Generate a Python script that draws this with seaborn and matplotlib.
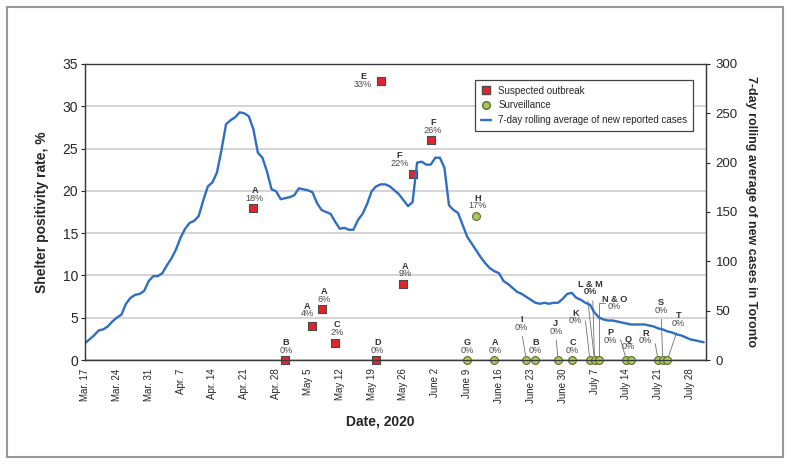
import seaborn as sns
import pandas as pd
import matplotlib.pyplot as plt
from matplotlib.lines import Line2D
from matplotlib.patches import Rectangle

# 7-day rolling average of new reported cases in Toronto, daily from Mar. 17
cases = [17, 21, 25, 30, 31, 34, 39, 43, 46, 57,
         63, 66, 67, 70, 80, 85, 85, 88, 96, 103,
         112, 124, 133, 139, 141, 146, 162, 176, 180, 190,
         213, 239, 243, 246, 251, 250, 247, 234, 210, 205,
         191, 173, 171, 163, 164, 165, 167, 174, 173, 172,
         170, 159, 152, 150, 148, 140, 133, 134, 132, 132,
         142, 148, 158, 171, 176, 178, 178, 176, 172, 168,
         162, 156, 160, 200, 201, 198, 198, 205, 205, 195,
         157, 152, 149, 137, 125, 118, 111, 104, 98, 93,
         90, 88, 80, 77, 73, 69, 67, 64, 61, 58,
         57, 58, 57, 58, 58, 62, 67, 68, 63, 61,
         58, 56, 48, 43, 41, 40, 40, 39, 38, 37,
         36, 36, 36, 36, 35, 34, 32, 31, 29, 28,
         26, 25, 23, 21, 20, 19, 18]
case_dates = pd.date_range("2020-03-17", periods=len(cases), freq="D")

# suspected outbreak tests
out_letters = ["A", "B", "A", "A", "C", "D", "E", "A", "F", "F"]
out_dates = ["2020-04-23", "2020-04-30", "2020-05-06", "2020-05-08", "2020-05-11",
             "2020-05-20", "2020-05-21", "2020-05-26", "2020-05-28", "2020-06-01"]
out_rates = [18, 0, 4, 6, 2, 0, 33, 9, 22, 26]

# surveillance tests
surv_letters = ["G", "H", "A", "I", "B", "J", "C", "K", "L & M", "N & O",
                "P", "Q", "R", "S", "T"]
surv_dates = ["2020-06-09", "2020-06-11", "2020-06-15", "2020-06-22", "2020-06-24",
              "2020-06-29", "2020-07-02", "2020-07-06", "2020-07-07", "2020-07-08",
              "2020-07-14", "2020-07-15", "2020-07-21", "2020-07-22", "2020-07-23"]
surv_rates = [0, 17, 0, 0, 0, 0, 0, 0, 0, 0, 0, 0, 0, 0, 0]

tick_dates = pd.date_range("2020-03-17", "2020-07-28", freq="7D")
tick_labels = ["Mar. 17", "Mar. 24", "Mar. 31", "Apr. 7", "Apr. 14", "Apr. 21",
               "Apr. 28", "May 5", "May 12", "May 19", "May 26", "June 2",
               "June 9", "June 16", "June 23", "June 30", "July 7", "July 14",
               "July 21", "July 28"]

# label offsets in pixels (dx, dy of the % text from the marker) + leader style
out_layout = [(1.5, 9.5, None), (0.7, 10, None), (-5.4, 12.4, None), (2.3, 10, None),
              (1.7, 10.7, None), (1.6, 10, None), (-17.6, -3.6, None), (2, 10, None),
              (-13, 10.6, None), (2.4, 10, None)]
surv_layout = [(0, 10, None), (1.6, 10.7, None), (0.7, 10, None),
               (-4.6, 32.7, "line"), (0.3, 10, None), (-2.3, 29, "line"),
               (1, 10, None), (-14.5, 39.3, ("elbow", (1, 0.5), 96.6)),
               (-4.5, 68.3, "double"), (15.5, 53.3, ("elbow", (0, 0.9), 90)),
               (-16, 20, ("elbow", (1, 0.5), 106)), (-2.7, 13.3, None),
               (-13, 19.3, ("elbow", (1, 0.5), 100.5)), (-1.6, 50, "line"),
               (11, 36.7, "line")]

RED = "#e3242b"
GREEN = "#a8c75e"
BLUE = "#2f6ec2"

sns.set_style("white")
plt.rcParams["font.family"] = ["Liberation Sans", "DejaVu Sans"]

fig = plt.figure(figsize=(7.91, 4.65), dpi=100)
ax = fig.add_axes([0.1075, 0.2258, 0.785, 0.6366])
ax2 = ax.twinx()

sns.scatterplot(x=pd.to_datetime(out_dates), y=out_rates, ax=ax, marker="s", s=30,
                color=RED, edgecolor="#4a4a4a", linewidth=0.8, clip_on=False,
                zorder=5, legend=False)
sns.scatterplot(x=pd.to_datetime(surv_dates), y=surv_rates, ax=ax, marker="o", s=32,
                color=GREEN, edgecolor="#5f6e2e", linewidth=0.8, clip_on=False,
                zorder=5, legend=False)
sns.lineplot(x=case_dates, y=cases, ax=ax2, color=BLUE, linewidth=1.7)


def put_label(d, v, letter, pct, dx, dy, leader):
    d = pd.Timestamp(d)
    arrow = None
    props = dict(arrowstyle="-", color="#707070", lw=0.6, shrinkA=1, shrinkB=3.2)
    if leader == "line":
        arrow = dict(props, relpos=(0.5, 0))
    elif isinstance(leader, tuple):
        arrow = dict(props, relpos=leader[1], shrinkA=0,
                     connectionstyle=f"angle,angleA=0,angleB={leader[2]},rad=0")
    kw = dict(textcoords="offset pixels", ha="center", va="center", fontsize=6.6,
              annotation_clip=False)
    if leader == "double":
        for rp in [(0.3, 0), (0.7, 0)]:
            ax.annotate(pct, xy=(d, v), xytext=(dx, dy), color="#4a4a4a",
                        arrowprops=dict(props, relpos=rp), **kw)
    else:
        ax.annotate(pct, xy=(d, v), xytext=(dx, dy), color="#4a4a4a",
                    arrowprops=arrow, **kw)
    ax.annotate(letter, xy=(d, v), xytext=(dx, dy + 7.5), color="#333333",
                fontweight="bold", **kw)


for i in range(len(out_letters)):
    dx, dy, ld = out_layout[i]
    put_label(out_dates[i], out_rates[i], out_letters[i], f"{out_rates[i]}%", dx, dy, ld)
for i in range(len(surv_letters)):
    dx, dy, ld = surv_layout[i]
    put_label(surv_dates[i], surv_rates[i], surv_letters[i], f"{surv_rates[i]}%", dx, dy, ld)

# axes
ax.set_xlim(pd.Timestamp("2020-03-17"), pd.Timestamp("2020-03-17") + pd.Timedelta(hours=136.5 * 24))
ax.set_ylim(0, 35)
ax.set_yticks(range(0, 36, 5))
ax2.set_ylim(0, 300)
ax2.set_yticks(range(0, 301, 50))
ax.set_xticks(tick_dates)
ax.set_xticklabels(tick_labels, rotation=90, fontsize=7)
ax.tick_params(axis="x", direction="out", length=4, width=0.8, color="#333333", pad=2)
ax.tick_params(axis="y", direction="out", length=3, width=0.8, labelsize=10, pad=2)
ax2.tick_params(axis="y", direction="out", length=3, width=0.8, labelsize=9.5, pad=4)
ax.yaxis.grid(True, color="#d2d2d2", linewidth=1.3)
ax.set_axisbelow(True)
for a in (ax, ax2):
    for sp in a.spines.values():
        sp.set_color("#3a3a3a")
        sp.set_linewidth(0.9)
ax.spines["top"].set_color("#777777")

ax.set_xlabel("Date, 2020", fontsize=10, fontweight="bold")
ax.xaxis.set_label_coords(0.475, -0.185)
ax.set_ylabel("Shelter positivity rate, %", fontsize=10, fontweight="bold", labelpad=10)
ax2.set_ylabel("7-day rolling average of new cases in Toronto", fontsize=9,
               fontweight="bold", rotation=-90, labelpad=14)

handles = [
    Line2D([], [], marker="s", linestyle="none", markerfacecolor=RED,
           markeredgecolor="#4a4a4a", markersize=5.5),
    Line2D([], [], marker="o", linestyle="none", markerfacecolor=GREEN,
           markeredgecolor="#5f6e2e", markersize=5.5),
    Line2D([], [], color=BLUE, linewidth=1.7),
]
leg = ax2.legend(handles, ["Suspected outbreak", "Surveillance",
                           "7-day rolling average of new reported cases"],
                 loc="upper right", bbox_to_anchor=(0.987, 0.963), fontsize=7,
                 frameon=True, fancybox=False, framealpha=1, edgecolor="#444444",
                 handlelength=1.1, handletextpad=0.7, borderpad=0.6, labelspacing=0.5)
leg.get_frame().set_linewidth(0.9)

# outer border
fig.patches.append(Rectangle((7 / 791, 1 - 457 / 465), 776 / 791, 450 / 465,
                             transform=fig.transFigure, fill=False,
                             edgecolor="#999999", linewidth=1.5))

fig.savefig("out.png", dpi=100)
